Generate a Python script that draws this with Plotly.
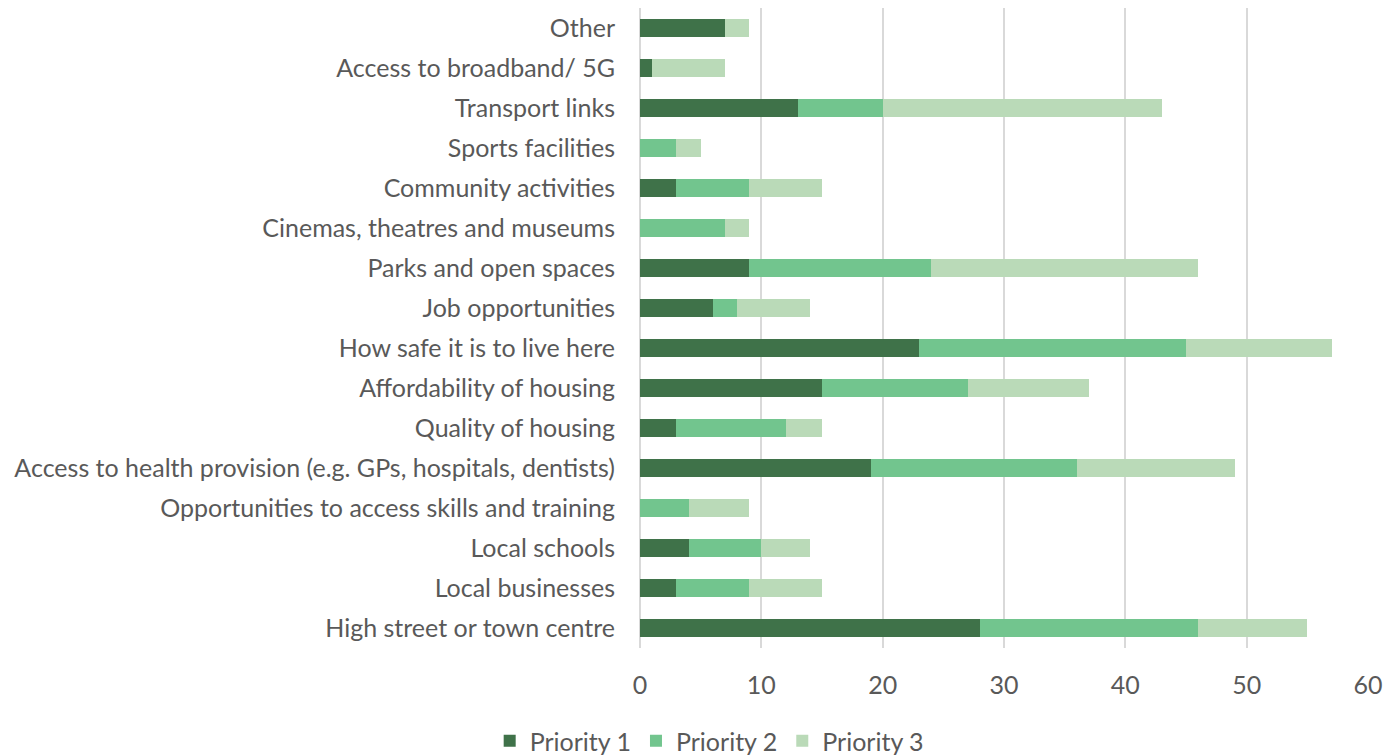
import plotly.graph_objects as go

categories = [
    "Other",
    "Access to broadband/ 5G",
    "Transport links",
    "Sports facilities",
    "Community activities",
    "Cinemas, theatres and museums",
    "Parks and open spaces",
    "Job opportunities",
    "How safe it is to live here",
    "Affordability of housing",
    "Quality of housing",
    "Access to health provision (e.g. GPs, hospitals, dentists)",
    "Opportunities to access skills and training",
    "Local schools",
    "Local businesses",
    "High street or town centre",
]
priority1 = [7, 1, 13, 0, 3, 0, 9, 6, 23, 15, 3, 19, 0, 4, 3, 28]
priority2 = [0, 0, 7, 3, 6, 7, 15, 2, 22, 12, 9, 17, 4, 6, 6, 18]
priority3 = [2, 6, 23, 2, 6, 2, 22, 6, 12, 10, 3, 13, 5, 4, 6, 9]

series = [("Priority 1", priority1, "#3F7249"),
          ("Priority 2", priority2, "#72C58E"),
          ("Priority 3", priority3, "#BADAB8")]

fig = go.Figure()
for name, vals, col in series:
    fig.add_trace(go.Bar(y=categories, x=vals, name=name, orientation="h",
                         marker=dict(color=col, line=dict(width=0))))

font = dict(family="Lato, Open Sans, sans-serif", size=25, color="#595959")
W, H = 1383, 756
fig.update_layout(
    barmode="stack",
    bargap=0.53,
    width=W, height=H,
    margin=dict(l=632, r=23, t=0, b=H - 640, autoexpand=False),
    paper_bgcolor="white", plot_bgcolor="white",
    font=font,
    xaxis=dict(range=[0, 60], dtick=10, showgrid=True, gridcolor="#D9D9D9",
               gridwidth=2, zeroline=True, zerolinecolor="#D9D9D9", zerolinewidth=2,
               showline=False, ticks="", ticklabelstandoff=20, tickfont=font),
    yaxis=dict(autorange="reversed", showgrid=False, showline=False, ticks="",
               ticklabelstandoff=24, tickfont=font),
    legend=dict(orientation="h", xref="container", yref="container",
                x=0.507, xanchor="center", y=0, yanchor="bottom",
                font=font, traceorder="normal", itemwidth=30),
    showlegend=True,
)
fig.write_html("out.html")
